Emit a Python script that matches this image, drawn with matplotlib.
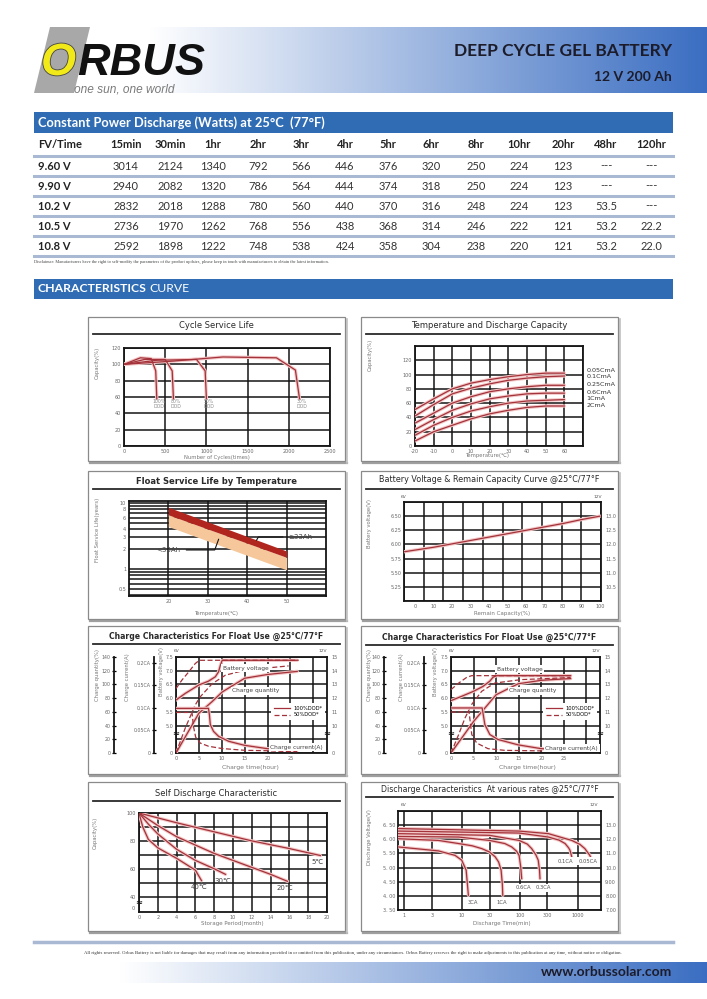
import numpy as np
import matplotlib.pyplot as plt
from matplotlib.patches import Rectangle, Polygon
from matplotlib.lines import Line2D
import matplotlib.patheffects as pe

plt.rcParams['font.family'] = ['DejaVu Sans']

# ---------------- data ----------------
table_times = ['15min', '30min', '1hr', '2hr', '3hr', '4hr', '5hr', '6hr',
               '8hr', '10hr', '20hr', '48hr', '120hr']
fv_labels = ['9.60 V', '9.90 V', '10.2 V', '10.5 V', '10.8 V']
watts = [
    ['3014', '2124', '1340', '792', '566', '446', '376', '320', '250', '224', '123', '---', '---'],
    ['2940', '2082', '1320', '786', '564', '444', '374', '318', '250', '224', '123', '---', '---'],
    ['2832', '2018', '1288', '780', '560', '440', '370', '316', '248', '224', '123', '53.5', '---'],
    ['2736', '1970', '1262', '768', '556', '438', '368', '314', '246', '222', '121', '53.2', '22.2'],
    ['2592', '1898', '1222', '748', '538', '424', '358', '304', '238', '220', '121', '53.2', '22.0'],
]

# cycle service life
cycle_labels = ['100%\nDOD', '80%\nDOD', '50%\nDOD', '30%\nDOD']
cycle_n = [[0, 200, 330, 385, 398],
           [0, 250, 500, 585, 600],
           [0, 400, 880, 985, 1000],
           [0, 600, 1200, 1850, 2080, 2130]]
cycle_cap = [[100, 108, 107, 92, 58],
             [100, 106, 106, 92, 58],
             [100, 105, 106, 92, 58],
             [100, 104, 109, 108, 93, 58]]

# temperature and discharge capacity
temp_x = [-20, -10, 0, 10, 20, 30, 40, 50, 60]
temp_rates = ['0.05CmA', '0.1CmA', '0.25CmA', '0.6CmA', '1CmA', '2CmA']
temp_cap = [[51, 66, 80, 88, 93, 97, 100, 102, 102],
            [42, 58, 73, 81, 87, 92, 95, 97, 98],
            [32, 46, 60, 69, 76, 80, 83, 85, 85],
            [23, 37, 50, 59, 66, 70, 73, 74, 74],
            [15, 29, 40, 49, 55, 60, 63, 64, 65],
            [7, 20, 29, 38, 45, 50, 54, 56, 56]]

# float service life
float_t = [20, 50]
big_hi = [8.6, 1.87]
big_lo = [6.6, 1.5]
small_lo = [4.4, 0.97]

# voltage vs remaining capacity
remain_cap = [-6, 0, 10, 20, 30, 40, 50, 60, 70, 80, 90, 100]
remain_volt = [5.87, 5.90, 5.95, 6.01, 6.07, 6.13, 6.19, 6.25, 6.31, 6.37, 6.44, 6.50]

# charge characteristics (left panel)
a_vt = [0, 2.0, 5.0, 7.1, 8.6, 9.3, 9.7, 10.1, 26.5]
a_v = [5.93, 6.17, 6.48, 6.62, 6.78, 6.96, 7.20, 7.38, 7.38]
a_vt50 = [0, 1.3, 2.8, 4.2, 5.1, 26.8]
a_v50 = [6.35, 6.66, 6.96, 7.26, 7.38, 7.38]
a_qt = [0, 5.0, 7.9, 10.1, 15.0, 20.0, 25.0, 26.5]
a_q = [0, 58, 75, 89, 109, 114.5, 118, 119]
a_qt50 = [0, 2.0, 4.2, 5.3, 7.9, 10.8, 15.2, 24.6]
a_q50 = [0, 36, 70, 82, 101, 113.5, 121, 127]
a_ct = [0, 7.1, 7.3, 7.5, 8.2, 9.3, 11.5, 15.0, 20.0, 25.0, 26.5]
a_c = [0.099, 0.099, 0.085, 0.063, 0.048, 0.037, 0.026, 0.017, 0.0096, 0.0066, 0.0059]
a_ct50 = [0, 3.5, 3.8, 4.3, 5.3, 7.1, 10, 15, 20, 25, 26.5]
a_c50 = [0.090, 0.090, 0.060, 0.035, 0.022, 0.015, 0.010, 0.006, 0.005, 0.003, 0.003]

# charge characteristics (right panel)
b_vt = [0, 2.4, 5.0, 7.1, 8.6, 9.3, 10.1, 26.5]
b_v = [5.91, 6.07, 6.25, 6.43, 6.62, 6.76, 6.82, 6.82]
b_vt50 = [0, 1.7, 3.5, 4.6, 26.5]
b_v50 = [6.31, 6.55, 6.76, 6.82, 6.82]
b_qt = [0, 5.0, 10.0, 14.9, 20.0, 25.0, 26.5]
b_q = [0, 46, 85, 101, 106, 108, 108.5]
b_qt50 = [0, 1.7, 3.1, 4.6, 6.8, 9.7, 15.5, 26.5]
b_q50 = [0, 27, 51, 71, 90, 102, 107, 110]
b_ct = [0, 6.9, 7.5, 8.6, 10.4, 14.9, 20, 25, 26.5]
b_c = [0.1, 0.1, 0.063, 0.041, 0.030, 0.018, 0.0096, 0.0074, 0.0059]
b_ct50 = [0, 4.0, 4.6, 5.7, 8.2, 11.9, 26.5]
b_c50 = [0.091, 0.091, 0.041, 0.022, 0.0096, 0.0059, 0.0037]

# self discharge
sd_labels = ['5\u2103', '20\u2103', '30\u2103', '40\u2103']
sd_month = [[0, 4, 8, 12, 16, 19.3],
            [0, 2, 4, 6, 8, 10, 12, 14, 15.8],
            [0, 1, 2, 4, 6, 8, 9.2],
            [0, 0.4, 1, 2, 4, 6, 6.65]]
sd_cap = [[100, 93, 86.5, 80, 74.5, 69.5],
          [100, 91, 83, 77, 71, 66, 61, 56, 51],
          [100, 92, 85, 74, 66, 60, 56],
          [100, 90, 81, 75, 67.5, 59, 51.5]]

# discharge at various rates
dc_labels = ['3CA', '1CA', '0.6CA', '0.3CA', '0.1CA', '0.05CA']
dc_t = [[0.78, 3.9, 7.6, 9.9, 11.8, 12.9],
        [0.78, 3.9, 8.7, 15, 22, 30, 37.5, 43, 47.5, 50, 50.8],
        [0.78, 8.7, 29.8, 55, 72.5, 88, 97.4, 104, 108],
        [0.78, 29.8, 97.4, 135, 161, 190, 209, 220, 224],
        [0.78, 97.4, 312, 480, 609, 700, 742, 794],
        [0.78, 97.4, 312, 794, 1100, 1340, 1634, 1702]]
dc_v = [[5.73, 5.59, 5.43, 5.26, 4.91, 4.02],
        [6.02, 5.96, 5.85, 5.77, 5.67, 5.55, 5.38, 5.20, 4.91, 4.40, 4.02],
        [6.10, 6.08, 5.96, 5.85, 5.73, 5.58, 5.43, 5.02, 4.61],
        [6.20, 6.14, 5.96, 5.83, 5.67, 5.45, 5.26, 4.90, 4.61],
        [6.29, 6.22, 6.08, 5.97, 5.85, 5.70, 5.61, 5.38],
        [6.38, 6.29, 6.20, 5.96, 5.82, 5.67, 5.43, 5.35]]

# ---------------- figure ----------------
W, H = 707, 999
fig = plt.figure(figsize=(W / 100, H / 100), dpi=100)
bg = fig.add_axes([0, 0, 1, 1], zorder=-10)
bg.axis('off')
bg.set_xlim(0, W)
bg.set_ylim(H, 0)
bg.set_autoscale_on(False)

RED = '#a3323a'
HALO = '#f3c6c6'
TICK = '#666666'
LAB = '#777777'
BLUE = '#2f6cb4'
INK = '#151515'


def px_axes(x0, y0, x1, y1):
    return fig.add_axes([x0 / W, 1 - y1 / H, (x1 - x0) / W, (y1 - y0) / H])


def gradient_band(x0, x1, y0, y1, start):
    xs = np.linspace(x0, x1, 500)
    t = np.clip((xs - start) / (x1 - start), 0, 1)
    white = np.array([1.0, 1.0, 1.0])
    blue = np.array([0.23, 0.43, 0.76])
    img = (1 - t[:, None]) * white + t[:, None] * blue
    bg.imshow(img[None, :, :], extent=[x0, x1, y1, y0], aspect='auto', zorder=0)


def style(ax):
    ax.set_facecolor('white')
    for s in ax.spines.values():
        s.set_linewidth(1.3)
        s.set_color(INK)
    ax.tick_params(which='both', length=0, labelsize=3.5, labelcolor=TICK, pad=2)
    ax.grid(True, color=INK, lw=1.1)
    ax.set_axisbelow(True)


def curve(ax, x, y, dashed=False):
    if dashed:
        ax.plot(x, y, color=RED, lw=0.9, ls=(0, (4, 2)), zorder=4)
    else:
        ax.plot(x, y, color=HALO, lw=2.4, solid_capstyle='round', zorder=3)
        ax.plot(x, y, color=RED, lw=0.9, zorder=4)


def panel(x0, y0, x1, y1, title, ty, ly, bold=False, size=6.0):
    bg.plot([x0 + 2, x1 + 1.5], [y1 + 1.5, y1 + 1.5], color='#a0a0a0', lw=1.6, zorder=1)
    bg.plot([x1 + 1.5, x1 + 1.5], [y0 + 2, y1 + 1.5], color='#c0c0c0', lw=1.2, zorder=1)
    bg.add_patch(Rectangle((x0, y0), x1 - x0, y1 - y0, fc='white', ec='#8a8a8a',
                           lw=0.9, zorder=2))
    bg.text((x0 + x1) / 2, ty, title, ha='center', va='center', fontsize=size,
            color='#2a2a2a', fontweight='bold' if bold else 'normal', zorder=3)
    bg.plot([x0 + 5, x1 - 5], [ly, ly], color='#2a2a2a', lw=1.3, zorder=3)


def ylab(x, y, s, size=3.8):
    bg.text(x, y, s, rotation=90, ha='center', va='center', fontsize=size, color=LAB, zorder=3)


def xlab(x, y, s, size=4.3):
    bg.text(x, y, s, ha='center', va='center', fontsize=size, color=LAB, zorder=3)


def side_axis(ax, off, lim, ticks, labels):
    t = ax.twinx()
    t.set_ylim(*lim)
    for k, s in t.spines.items():
        s.set_visible(k == 'left')
    t.spines['left'].set_position(('axes', off))
    t.spines['left'].set_linewidth(1.3)
    t.spines['left'].set_color(INK)
    t.yaxis.set_ticks_position('left')
    t.set_yticks(ticks, labels)
    t.tick_params(direction='inout', length=2.5, width=0.9, labelsize=3.4,
                  labelcolor=TICK, pad=1)
    return t


def right_end(txt):
    fig.canvas.draw()
    bb = txt.get_window_extent()
    return bg.transData.inverted().transform((bb.x1, bb.y0))[0]


# ---------------- header ----------------
gradient_band(30, 707, 27, 93, 150)
bg.add_patch(Polygon([(50, 27), (90, 27), (74, 93), (34, 93)], closed=True,
                     fc='#a8a8a8', ec='none', zorder=2))
o_txt = bg.text(41, 75, 'O', fontsize=32.5, fontweight='bold', style='italic', color='#f2ea18',
                family='Liberation Sans', zorder=3,
                path_effects=[pe.withStroke(linewidth=1.2, foreground='#444444')])
bg.text(right_end(o_txt) + 1, 75, 'RBUS', fontsize=32.5, fontweight='bold', style='italic',
        color='#111111', family='Liberation Sans', zorder=3)
bg.text(74, 90, 'one sun, one world', fontsize=8.6, style='italic', color='#7a7a7a',
        family='Liberation Sans', va='center', zorder=3)
bg.text(672, 51, 'DEEP CYCLE GEL BATTERY', ha='right', va='center', fontsize=12.5,
        fontweight='bold', color='#1c1c2a', family='Lato', zorder=3)
bg.text(672, 77, '12 V 200 Ah', ha='right', va='center', fontsize=10,
        fontweight='bold', color='#1c1c2a', family='Lato', zorder=3)

# ---------------- table ----------------
bg.add_patch(Rectangle((34, 112), 639, 21, fc=BLUE, ec='none', zorder=1))
bg.text(38, 122.5, 'Constant Power Discharge (Watts) at 25\u00b0C  (77\u00b0F)', ha='left',
        va='center', fontsize=9.3, fontweight='bold', color='white', family='Lato', zorder=3)
col_x = [126, 170, 213, 258, 301, 345, 388, 431, 476, 519, 563, 606, 651]
row_y = [166, 186, 206, 226, 246]
bg.text(38, 145, 'FV/Time', ha='left', va='center', fontsize=8, fontweight='bold',
        color='#222', family='Lato', zorder=3)
for cx, lab in zip(col_x, table_times):
    bg.text(cx, 145, lab, ha='center', va='center', fontsize=8, fontweight='bold',
            color='#222', family='Lato', zorder=3)
for ry, fv, vals in zip(row_y, fv_labels, watts):
    bg.text(38, ry, fv, ha='left', va='center', fontsize=8, fontweight='bold',
            color='#222', family='Lato', zorder=3)
    for cx, v in zip(col_x, vals):
        bg.text(cx, ry, v, ha='center', va='center', fontsize=8, color='#333',
                family='Lato', zorder=3)
for sy in [155.5, 175.5, 195.5, 215.5, 235.5, 256]:
    bg.plot([34, 673], [sy, sy], color='#a9b8d3', lw=2.2, zorder=2)
bg.text(34, 262, 'Disclaimer: Manufacturers have the right to self-modify the parameters of the '
        'product updates, please keep in touch with manufacturers to obtain the latest information.',
        ha='left', va='center', fontsize=3.2, color='#444', family='Liberation Serif', zorder=3)

bg.add_patch(Rectangle((34, 279), 639, 20, fc=BLUE, ec='none', zorder=1))
ch_txt = bg.text(38, 289, 'CHARACTERISTICS', ha='left', va='center', fontsize=8.8,
                 fontweight='bold', color='white', family='Lato', zorder=3)
bg.text(right_end(ch_txt) + 3, 289, 'CURVE', ha='left', va='center', fontsize=8.8,
        color='white', family='Lato', zorder=3)

# ---------------- panel frames ----------------
panel(88, 317, 345, 461, 'Cycle Service Life', 326, 334)
panel(361, 317, 618, 461, 'Temperature and Discharge Capacity', 326, 334)
panel(88, 471, 345, 619, 'Float Service Life by Temperature', 481, 489, bold=True)
panel(361, 471, 618, 619, 'Battery Voltage & Remain Capacity Curve @25\u00b0C/77\u00b0F',
      480, 489, size=5.8)
panel(88, 626, 345, 774, 'Charge Characteristics For Float Use @25\u00b0C/77\u00b0F',
      636, 644, bold=True, size=5.6)
panel(361, 626, 618, 774, 'Charge Characteristics For Float Use @25\u00b0C/77\u00b0F',
      637, 645, bold=True, size=5.6)
panel(88, 782, 345, 931, 'Self Discharge Characteristic', 793, 801)
panel(361, 782, 618, 931, 'Discharge Characteristics  At various rates @25\u00b0C/77\u00b0F',
      790, 797, size=5.6)

# ---------------- 1: cycle service life ----------------
ax = px_axes(124, 348, 330, 446)
style(ax)
ax.set_xlim(0, 2500)
ax.set_ylim(0, 120)
ax.set_xticks(range(0, 2501, 500))
ax.set_yticks(range(0, 121, 20))
for c, v, lab in zip(cycle_n, cycle_cap, cycle_labels):
    curve(ax, c, v)
    ax.text(c[-1] + 30, 57, lab, ha='center', va='top', fontsize=3.3, color='#8a8a8a',
            linespacing=1.0)
ylab(97, 363, 'Capacity(%)')
xlab(217, 457, 'Number of Cycles(times)', 3.8)

# ---------------- 2: temperature & capacity ----------------
ax = px_axes(415, 346, 583, 446)
style(ax)
ax.set_xlim(-20, 70)
ax.set_ylim(0, 140)
ax.set_xticks(range(-20, 71, 10), [str(v) for v in range(-20, 61, 10)] + [''])
ax.set_yticks(range(0, 141, 20), [str(v) for v in range(0, 121, 20)] + [''])
rate_label_y = [105, 98, 86, 75, 66, 57]
for vals, rate, ly in zip(temp_cap, temp_rates, rate_label_y):
    curve(ax, temp_x, vals)
    ax.text(72, ly, rate, fontsize=4.6, color='#333', va='center', clip_on=False)
ylab(370, 355, 'Capacity(%)')
xlab(488, 456, 'Temperature(\u2103)', 3.8)

# ---------------- 3: float service life ----------------
ax = px_axes(129, 501, 326, 596)
style(ax)
ax.set_yscale('log')
ax.set_xlim(10, 60)
ax.set_ylim(0.39, 10.7)
ypos = [0.4, 0.5, 0.6, 0.7, 0.8, 0.9, 1, 2, 3, 4, 5, 6, 7, 8, 9, 10]
ylbl = {0.5: '0.5', 1: '1', 2: '2', 3: '3', 4: '4', 6: '6', 8: '8', 10: '10'}
ax.set_yticks(ypos, [ylbl.get(p, '') for p in ypos])
ax.minorticks_off()
ax.set_xticks([20, 30, 40, 50])
ax.fill_between(float_t, small_lo, big_lo, color='#f6c79a', lw=0, zorder=3)
ax.fill_between(float_t, big_lo, big_hi, color='#b0261f', lw=0, zorder=3)
ax.annotate('\u226533Ah', xy=(42, 2.5), xytext=(50.5, 3.05), fontsize=5, color='#444',
            va='center', ha='left', zorder=5,
            arrowprops=dict(arrowstyle='-', color=INK, lw=0.8,
                            connectionstyle='angle,angleA=0,angleB=60,rad=0'))
ax.annotate('<33Ah', xy=(33, 3.1), xytext=(17, 1.94), fontsize=5, color='#444',
            va='center', ha='left', zorder=5,
            arrowprops=dict(arrowstyle='-', color=INK, lw=0.8,
                            connectionstyle='angle,angleA=0,angleB=70,rad=0'))
ylab(97, 530, 'Float Service Life(years)')
xlab(217, 613, 'Temperature(\u2103)', 3.8)

# ---------------- 4: voltage & remain capacity ----------------
ax = px_axes(404, 502, 601, 601)
style(ax)
ax.set_xlim(-6, 100.5)
ax.set_ylim(5.0, 6.75)
ax.set_xticks(range(0, 101, 10))
ax.set_xticks(np.linspace(-6, 100.5, 11), minor=True)
ax.grid(False, axis='x', which='major')
ax.grid(True, axis='x', which='minor', color=INK, lw=1.1)
yv = np.arange(5.0, 6.76, 0.25)
ax.set_yticks(yv, [''] + ['%.2f' % v for v in yv[1:-1]] + [''])
curve(ax, remain_cap, remain_volt)
r = ax.twinx()
r.set_ylim(10.0, 13.5)
r.set_yticks([10.5, 11.0, 11.5, 12.0, 12.5, 13.0])
r.set_yticklabels(['10.5', '11.0', '11.5', '12.0', '12.5', '13.0'])
r.tick_params(length=0, labelsize=3.5, labelcolor=TICK, pad=3)
for s in r.spines.values():
    s.set_visible(False)
bg.text(404, 497, '6V', fontsize=3.2, color='#555', ha='center', va='center', zorder=3)
bg.text(598, 497, '12V', fontsize=3.2, color='#555', ha='center', va='center', zorder=3)
ylab(370, 523, 'Battery voltage(V)')
xlab(502, 613, 'Remain Capacity(%)', 4.0)


# ---------------- 5/6: charge characteristics ----------------
def charge_panel(rect, q_off, c_off, vt, v, vt50, v50, qt, q, qt50, q50, ct, c, ct50, c50,
                 txt_pos, leg_anchor, lab_x, lab_c):
    ax = px_axes(*rect)
    style(ax)
    ax.set_xlim(0, 33)
    ax.set_xticks(range(0, 31, 5), ['0', '5', '10', '15', '20', '25', ''])
    ax.set_ylim(4.0, 7.5)
    ax.set_yticks(np.arange(4.0, 7.51, 0.5),
                  ['0', '', '5.0', '5.5', '6.0', '6.5', '7.0', '7.5'])
    rr = ax.twinx()
    rr.set_ylim(8, 15)
    rr.set_yticks(range(8, 16), ['0', '', '10', '11', '12', '13', '14', '15'])
    rr.tick_params(length=0, labelsize=3.5, labelcolor=TICK, pad=3)
    for s in rr.spines.values():
        s.set_visible(False)
    cmax = 0.05 * 7 * 41.4 / 68
    qa = side_axis(ax, q_off, (0, 140), range(0, 141, 20), [str(k) for k in range(0, 141, 20)])
    ca = side_axis(ax, c_off, (0, cmax), [0, 0.05, 0.1, 0.15, 0.2],
                   ['0', '0.05CA', '0.1CA', '0.15CA', '0.2CA'])
    curve(ax, vt, v)
    curve(ax, vt50, v50, dashed=True)
    curve(qa, qt, q)
    curve(qa, qt50, q50, dashed=True)
    curve(ca, ct, c)
    curve(ca, ct50, c50, dashed=True)
    for xx in (0, 1):
        ax.text(xx, 4.72, '\u2248', transform=ax.get_yaxis_transform(), ha='center',
                va='center', fontsize=6, color=INK, fontweight='bold', clip_on=False, zorder=10)
    box = dict(fc='white', ec='none', pad=1.2)
    for (tx, ty), s in zip(txt_pos, ['Battery voltage', 'Charge quantity', 'Charge current(A)']):
        ca.text(tx, ty, s, transform=ca.transAxes, ha='center', va='center', fontsize=4.2,
                color='#444', bbox=box, zorder=6)
    handles = [Line2D([], [], color=RED, lw=0.9),
               Line2D([], [], color=RED, lw=0.9, ls=(0, (4, 2)))]
    ca.legend(handles, ['100%DOD*', '50%DOD*'], loc='center', bbox_to_anchor=leg_anchor,
              fontsize=3.7, frameon=True, fancybox=False, edgecolor='none', facecolor='white',
              framealpha=1, handlelength=3.2, borderpad=0.5, labelspacing=0.3,
              handletextpad=0.6)
    x0, y0, x1, y1 = rect
    bg.text(x0 + 1, 651, '6V', fontsize=3.2, color='#555', ha='center', va='center', zorder=3)
    bg.text(x1 - 4, 651, '12V', fontsize=3.2, color='#555', ha='center', va='center', zorder=3)
    ylab(lab_x[0], 675, 'Charge quantity(%)')
    ylab(lab_x[1], 677, 'Charge current(A)')
    ylab(lab_x[2], 672, 'Battery voltage(V)')
    xlab(lab_c, 767, 'Charge time(hour)', 4.4)


charge_panel((176, 657, 327, 753), -0.411, -0.146, a_vt, a_v, a_vt50, a_v50, a_qt, a_q,
             a_qt50, a_q50, a_ct, a_c, a_ct50, a_c50,
             [(0.46, 0.885), (0.53, 0.646), (0.80, 0.06)], (0.81, 0.43), (97, 128, 162), 250)
charge_panel((451, 657, 600, 753), -0.45, -0.181, b_vt, b_v, b_vt50, b_v50, b_qt, b_q,
             b_qt50, b_q50, b_ct, b_c, b_ct50, b_c50,
             [(0.46, 0.875), (0.55, 0.646), (0.81, 0.05)], (0.80, 0.43), (369, 401, 435), 527)

# ---------------- 7: self discharge ----------------
ax = px_axes(139, 813, 327, 912)
style(ax)
ax.set_xlim(0, 20)
ax.set_ylim(29, 100)
ax.set_xticks(range(0, 21, 2))
ax.set_yticks(range(40, 101, 10), ['40', '', '60', '', '80', '', '100'])
for m, cap, lab in zip(sd_month, sd_cap, sd_labels):
    curve(ax, m, cap)
    ax.text(m[-1] - 0.3, cap[-1] - 4.5, lab, fontsize=5, color='#444', ha='center',
            va='center', zorder=5)
ax.text(-0.02, 31.7, '0', transform=ax.get_yaxis_transform(), ha='right', va='center',
        fontsize=3.5, color=TICK)
ax.text(0, 35.7, '\u2248', transform=ax.get_yaxis_transform(), ha='center', va='center',
        fontsize=6, color=INK, fontweight='bold', clip_on=False, zorder=10)
ylab(95, 833, 'Capacity(%)')
xlab(232, 923, 'Storage Period(month)', 4.0)

# ---------------- 8: discharge at various rates ----------------
ax = px_axes(398, 811, 601, 910)
style(ax)
ax.set_xscale('log')
ax.set_xlim(0.78, 2550)
ax.set_ylim(3.5, 7.0)
xt = [1, 3, 10, 30, 100, 300, 1000]
ax.set_xticks(xt, [str(v) for v in xt])
ax.minorticks_off()
ax.set_yticks(np.arange(3.5, 7.01, 0.5),
              ['3. 50', '4. 00', '4. 50', '5. 00', '5. 50', '6. 00', '6. 50', ''])
for t, v in zip(dc_t, dc_v):
    curve(ax, t, v)
box = dict(fc='white', ec='none', pad=1.2)
dc_pos = [(15.5, 3.75), (49, 3.75), (114, 4.28), (252, 4.28), (607, 5.23), (1517, 5.23)]
for (px, py), lab in zip(dc_pos, dc_labels):
    ax.text(px, py, lab, fontsize=3.8, color='#555', ha='center', va='center', bbox=box,
            zorder=6)
r = ax.twinx()
r.set_ylim(7.0, 14.0)
r.set_yticks(range(7, 14), ['7.00', '8.00', '9.00', '10.0', '11.0', '12.0', '13.0'])
r.tick_params(length=0, labelsize=3.5, labelcolor=TICK, pad=3)
for s in r.spines.values():
    s.set_visible(False)
bg.text(404, 805, '6V', fontsize=3.2, color='#555', ha='center', va='center', zorder=3)
bg.text(594, 805, '12V', fontsize=3.2, color='#555', ha='center', va='center', zorder=3)
ylab(370, 837, 'Discharge Voltage(V)')
xlab(502, 923, 'Discharge Time(min)', 4.0)

# ---------------- footer ----------------
bg.plot([34, 673], [942, 942], color='#a9b8d3', lw=2.5, zorder=2)
bg.text(353, 953, 'All rights reserved. Orbus Battery is not liable for damages that may result '
        'from any information provided in or omitted from this publication, under any '
        'circumstances. Orbus Battery reserves the right to make adjustments to this publication '
        'at any time, without notice or obligation.', ha='center', va='center', fontsize=3.4,
        color='#333', family='Liberation Serif', zorder=3)
gradient_band(110, 707, 962, 983, 120)
bg.text(672, 972.5, 'www.orbussolar.com', ha='right', va='center', fontsize=10,
        fontweight='bold', color='#1c1c2a', family='Lato', zorder=3)

bg.set_xlim(0, W)
bg.set_ylim(H, 0)
fig.savefig('out.png', dpi=100)
